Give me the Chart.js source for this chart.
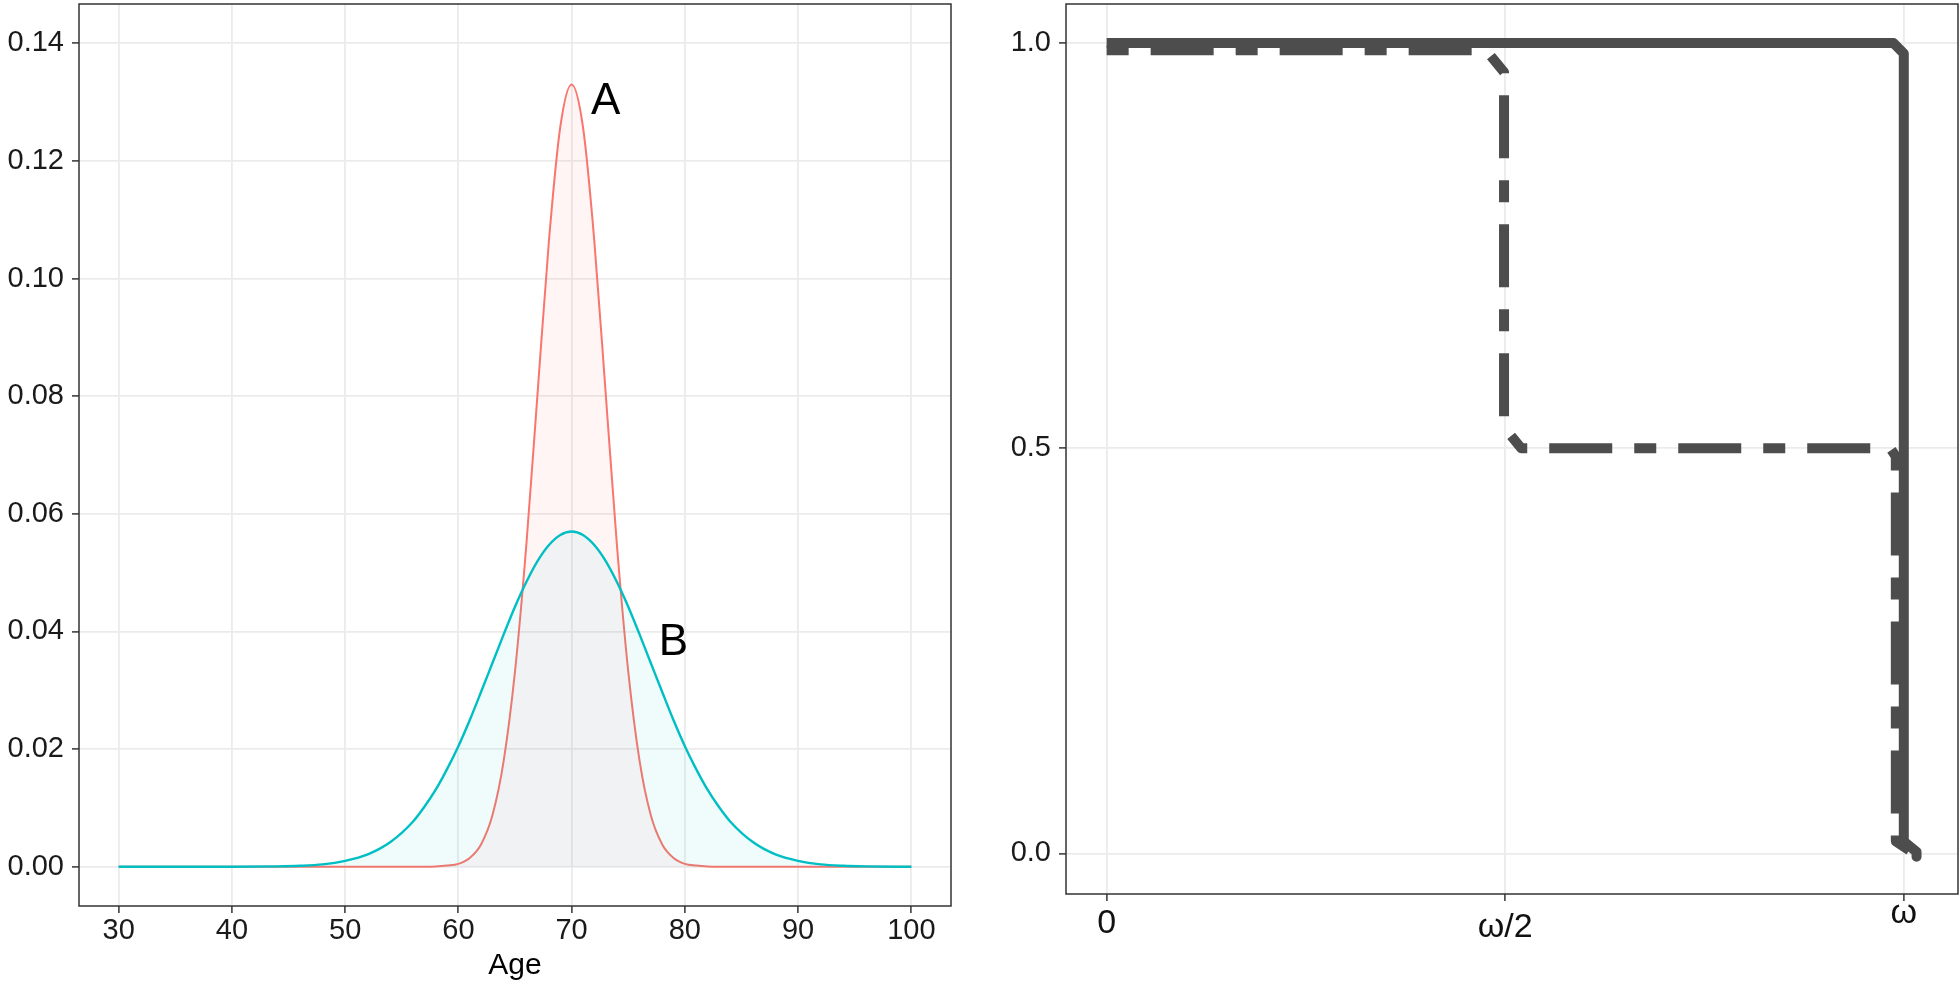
<!DOCTYPE html>
<html>
<head>
<meta charset="utf-8">
<script src="https://cdn.jsdelivr.net/npm/chart.js@4.4.1/dist/chart.umd.min.js"></script>
<style>
  html, body { margin: 0; padding: 0; background: #fff; }
  #left { position: absolute; left: 0; top: 0; }
  #right { position: absolute; left: 990px; top: 0; }
</style>
</head>
<body>
<canvas id="left" width="990" height="985"></canvas>
<canvas id="right" width="970" height="985"></canvas>
<script>
// left panel: density by age
const ages = [30, 35, 40, 44, 46, 48, 50, 52, 54, 56, 57,
  58, 59, 60, 61, 62, 63, 64, 65, 66, 67, 68, 69, 70, 71, 72, 73, 74, 75, 76, 77, 78, 79, 80, 81, 82,
  83, 84, 86, 88, 90, 92, 94, 96, 100];
const densityA = [0, 0, 0, 0, 0, 0, 0, 0, 0, 0, 0,
  0.00004, 0.0002, 0.0005, 0.0015, 0.0038, 0.0087, 0.0180, 0.0332, 0.0547, 0.0807, 0.1065, 0.1258, 0.1330,
  0.1258, 0.1065, 0.0807, 0.0547, 0.0332, 0.0180, 0.0087, 0.0038, 0.0015, 0.0005, 0.0002, 0.00004,
  0, 0, 0, 0, 0, 0, 0, 0, 0];
const densityB = [0, 0, 0, 0.00006, 0.00016, 0.0004, 0.0010, 0.0021, 0.0042, 0.0077, 0.0102,
  0.0131, 0.0166, 0.0205, 0.0249, 0.0297, 0.0346, 0.0395, 0.0442, 0.0484, 0.0520, 0.0547, 0.0564, 0.0570,
  0.0564, 0.0547, 0.0520, 0.0484, 0.0442, 0.0395, 0.0346, 0.0297, 0.0249, 0.0205, 0.0166, 0.0131,
  0.0102, 0.0077, 0.0042, 0.0021, 0.0010, 0.0004, 0.00016, 0.00006, 0];
const ageTicks = [30, 40, 50, 60, 70, 80, 90, 100];
const densityTicks = [0, 0.02, 0.04, 0.06, 0.08, 0.10, 0.12, 0.14];
const curveNames = ['A', 'B'];
const curveNameAge = [73, 79];
const curveNameDensity = [0.130, 0.038];

// right panel: two step curves
const solidX = [0, 0.987, 1.0, 1.0, 1.016, 1.016];
const solidY = [1.0, 1.0, 0.987, 0.015, 0.002, -0.004];
const dashedX = [0, 0.476, 0.4985, 0.4985, 0.52, 0.983, 0.99, 0.99, 1.016];
const dashedY = [0.991, 0.991, 0.964, 0.526, 0.5, 0.5, 0.49, 0.015, -0.002];
const omegaTicks = [0, 0.5, 1];
const omegaLabels = ['0', 'ω/2', 'ω'];
const shareTicks = [0, 0.5, 1.0];

const FONT = "'Liberation Sans', Arial, sans-serif";

function fixedTicks(values) {
  return function (scale) {
    scale.ticks = values.map(v => ({ value: v }));
  };
}

function points(xs, ys) {
  return xs.map((x, i) => ({ x: x, y: ys[i] }));
}

// fixed axis size, no extra padding for edge labels
function fitWidth(w) {
  return function (s) { s.width = w; s.paddingTop = 0; s.paddingBottom = 0; };
}
function fitHeight(h) {
  return function (s) { s.height = h; s.paddingLeft = 0; s.paddingRight = 0; };
}

// panel border drawn on top like ggplot
const panelBorder = {
  id: 'panelBorder',
  afterDraw(chart) {
    const ca = chart.chartArea;
    const ctx = chart.ctx;
    ctx.save();
    ctx.strokeStyle = '#333333';
    ctx.lineWidth = 1.5;
    ctx.strokeRect(ca.left, ca.top, ca.right - ca.left, ca.bottom - ca.top);
    ctx.restore();
  }
};

const curveText = {
  id: 'curveText',
  afterDatasetsDraw(chart) {
    const ctx = chart.ctx;
    const xs = chart.scales.x, ys = chart.scales.y;
    ctx.save();
    ctx.font = '44px ' + FONT;
    ctx.fillStyle = '#000';
    ctx.textAlign = 'center';
    ctx.textBaseline = 'middle';
    curveNames.forEach((t, i) => {
      ctx.fillText(t, xs.getPixelForValue(curveNameAge[i]), ys.getPixelForValue(curveNameDensity[i]));
    });
    ctx.restore();
  }
};

// omega labels sit at slightly different heights (plotmath look)
const omegaDrop = [39, 43, 29];
const omegaText = {
  id: 'omegaText',
  afterDraw(chart) {
    const ctx = chart.ctx;
    const xs = chart.scales.x;
    ctx.save();
    ctx.font = '34px ' + FONT;
    ctx.fillStyle = '#111';
    ctx.textAlign = 'center';
    ctx.textBaseline = 'alphabetic';
    omegaTicks.forEach((v, i) => {
      ctx.fillText(omegaLabels[i], xs.getPixelForValue(v), xs.top + omegaDrop[i]);
    });
    ctx.restore();
  }
};

const gridStyle = { color: '#EBEBEB', lineWidth: 1.8, tickColor: '#333333', tickLength: 7, tickWidth: 1.5 };

new Chart(document.getElementById('left'), {
  type: 'line',
  data: {
    datasets: [
      {
        label: 'A',
        data: points(ages, densityA),
        borderColor: '#F8766D',
        backgroundColor: 'rgba(248,118,109,0.07)',
        fill: 'origin',
        borderWidth: 2,
        pointRadius: 0,
        cubicInterpolationMode: 'monotone',
        order: 1
      },
      {
        label: 'B',
        data: points(ages, densityB),
        borderColor: '#00BFC4',
        backgroundColor: 'rgba(0,191,196,0.06)',
        fill: 'origin',
        borderWidth: 2.4,
        pointRadius: 0,
        cubicInterpolationMode: 'monotone',
        order: 0
      }
    ]
  },
  options: {
    responsive: false,
    animation: false,
    layout: { padding: { top: 4, right: 39, left: 0, bottom: 0 } },
    plugins: { legend: { display: false }, tooltip: { enabled: false } },
    scales: {
      x: {
        type: 'linear',
        min: 26.5,
        max: 103.5,
        afterBuildTicks: fixedTicks(ageTicks),
        afterFit: fitHeight(79),
        grid: gridStyle,
        border: { display: false },
        ticks: {
          autoSkip: false, maxRotation: 0, padding: 3, color: '#1a1a1a',
          font: { family: FONT, size: 29, lineHeight: 1 },
          callback: v => String(v)
        },
        title: {
          display: true, text: 'Age', color: '#000',
          font: { family: FONT, size: 30, lineHeight: 1 },
          padding: { top: 0, bottom: 4 }
        }
      },
      y: {
        type: 'linear',
        min: -0.00667,
        max: 0.14667,
        afterBuildTicks: fixedTicks(densityTicks),
        afterFit: fitWidth(79),
        grid: gridStyle,
        border: { display: false },
        ticks: {
          autoSkip: false, padding: 8, color: '#1a1a1a',
          font: { family: FONT, size: 29, lineHeight: 1 },
          callback: v => v.toFixed(2)
        }
      }
    }
  },
  plugins: [panelBorder, curveText]
});

new Chart(document.getElementById('right'), {
  type: 'scatter',
  data: {
    datasets: [
      {
        label: 'solid',
        data: points(solidX, solidY),
        showLine: true,
        borderColor: '#4D4D4D',
        borderWidth: 10,
        borderCapStyle: 'butt',
        borderJoinStyle: 'round',
        pointRadius: 0,
        tension: 0,
        order: 0
      },
      {
        label: 'dashed',
        data: points(dashedX, dashedY),
        showLine: true,
        borderColor: '#4D4D4D',
        borderWidth: 10,
        borderDash: [22, 22, 63, 22],
        borderCapStyle: 'butt',
        borderJoinStyle: 'round',
        pointRadius: 0,
        tension: 0,
        order: 1
      }
    ]
  },
  options: {
    responsive: false,
    animation: false,
    layout: { padding: { top: 4, right: 2, left: 0, bottom: 0 } },
    plugins: { legend: { display: false }, tooltip: { enabled: false } },
    scales: {
      x: {
        type: 'linear',
        min: -0.051,
        max: 1.068,
        afterBuildTicks: fixedTicks(omegaTicks),
        afterFit: fitHeight(91),
        grid: gridStyle,
        border: { display: false },
        ticks: { display: false }
      },
      y: {
        type: 'linear',
        min: -0.05,
        max: 1.048,
        afterBuildTicks: fixedTicks(shareTicks),
        afterFit: fitWidth(76),
        grid: gridStyle,
        border: { display: false },
        ticks: {
          autoSkip: false, padding: 8, color: '#1a1a1a',
          font: { family: FONT, size: 29, lineHeight: 1 },
          callback: v => v.toFixed(1)
        }
      }
    }
  },
  plugins: [panelBorder, omegaText]
});
</script>
</body>
</html>
